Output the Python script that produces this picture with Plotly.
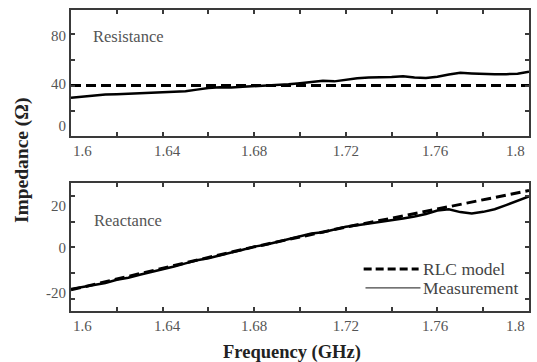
import plotly.graph_objects as go
from plotly.subplots import make_subplots

# ---- data ----
freq = [1.600, 1.605, 1.610, 1.615, 1.620, 1.625, 1.630, 1.635, 1.640, 1.645,
        1.650, 1.655, 1.660, 1.665, 1.670, 1.675, 1.680, 1.685, 1.690, 1.695,
        1.700, 1.705, 1.710, 1.715, 1.720, 1.725, 1.730, 1.735, 1.740, 1.745,
        1.750, 1.755, 1.760, 1.765, 1.770, 1.775, 1.780, 1.785, 1.790, 1.795,
        1.800]
r_meas = [30.5, 31.4, 32.2, 33.0, 33.3, 33.6, 34.0, 34.4, 34.8, 35.0,
          35.6, 36.8, 38.0, 38.6, 38.5, 39.0, 39.4, 39.8, 40.4, 41.0,
          41.8, 42.8, 43.6, 43.2, 44.6, 45.6, 46.2, 46.3, 46.6, 47.2,
          46.2, 45.8, 46.8, 48.6, 49.8, 49.4, 48.9, 48.8, 48.8, 49.2,
          50.6]
x_meas = [-16.2, -15.4, -14.4, -13.8, -12.6, -11.8, -10.6, -9.6, -8.4, -7.4,
          -6.2, -5.0, -4.2, -3.0, -2.0, -0.9, 0.3, 1.0, 2.1, 3.2,
          4.3, 5.4, 5.9, 7.0, 8.0, 8.6, 9.2, 9.9, 10.5, 11.2,
          12.0, 13.0, 14.3, 14.8, 13.7, 13.2, 13.8, 14.8, 16.4, 18.2,
          19.8]
model_freq = [1.60, 1.62, 1.64, 1.66, 1.68, 1.70, 1.72, 1.74, 1.76, 1.78, 1.80]
r_model = [40.0, 40.0, 40.0, 40.0, 40.0, 40.0, 40.0, 40.0, 40.0, 40.0, 40.0]
x_model = [-16.5, -12.2, -8.1, -3.9, 0.2, 4.1, 7.9, 11.3, 14.9, 18.5, 22.1]

x_label_pos = [1.605, 1.642, 1.68, 1.72, 1.759, 1.794]
x_label_txt = ["1.6", "1.64", "1.68", "1.72", "1.76", "1.8"]
x_minor = [1.62, 1.64, 1.66, 1.68, 1.70, 1.72, 1.74, 1.76, 1.78]
r_label_pos = [8.6, 41.3, 78.7]
r_label_txt = ["0", "40", "80"]
r_minor = [20, 40, 60, 80]
xr_label_pos = [-17.7, 0.0, 16.1]
xr_label_txt = ["-20", "0", "20"]
xr_minor = [-20, -10, 0, 10, 20]

FONT = "Liberation Serif"
FRAME = "#3a3a3a"
TICKC = "#555555"

fig = make_subplots(rows=2, cols=1, vertical_spacing=0.1562)
fig.update_layout(
    width=537, height=362,
    margin=dict(l=71, r=6, t=10, b=51),
    paper_bgcolor="white", plot_bgcolor="white",
    showlegend=False,
    font=dict(family=FONT, color="#333333"),
)
fig.update_yaxes(domain=[0.5814, 1.0], row=1, col=1)
fig.update_yaxes(domain=[0.0, 0.4252], row=2, col=1)

fig.add_trace(go.Scatter(x=model_freq, y=r_model, mode="lines", name="RLC model",
                         line=dict(color="black", width=3, dash="10px,5px")), row=1, col=1)
fig.add_trace(go.Scatter(x=freq, y=r_meas, mode="lines", name="Measurement",
                         line=dict(color="black", width=2.5)), row=1, col=1)
fig.add_trace(go.Scatter(x=model_freq, y=x_model, mode="lines", name="RLC model",
                         line=dict(color="black", width=3, dash="10px,5px")), row=2, col=1)
fig.add_trace(go.Scatter(x=freq, y=x_meas, mode="lines", name="Measurement",
                         line=dict(color="black", width=2.5)), row=2, col=1)

xaxis_common = dict(
    range=[1.6, 1.8], showgrid=False, zeroline=False,
    showline=True, linecolor=FRAME, linewidth=2, mirror="ticks",
    tickmode="array", tickvals=x_label_pos, ticktext=x_label_txt, ticks="",
    tickfont=dict(family=FONT, size=15, color=TICKC),
    minor=dict(tickmode="array", tickvals=x_minor, ticks="inside", ticklen=4,
               tickcolor=FRAME, tickwidth=1.5, showgrid=False),
)
fig.update_xaxes(**xaxis_common, row=1, col=1)
fig.update_xaxes(**xaxis_common, row=2, col=1)

yaxis_common = dict(
    showgrid=False, zeroline=False,
    showline=True, linecolor=FRAME, linewidth=2, mirror="ticks",
    tickmode="array", ticks="",
    tickfont=dict(family=FONT, size=15, color=TICKC),
)
fig.update_yaxes(**yaxis_common, range=[0.8, 98.6], tickvals=r_label_pos, ticktext=r_label_txt,
                 minor=dict(tickmode="array", tickvals=r_minor, ticks="inside", ticklen=4,
                            tickcolor=FRAME, tickwidth=1.5, showgrid=False),
                 row=1, col=1)
fig.update_yaxes(**yaxis_common, range=[-24.7, 25.0], tickvals=xr_label_pos, ticktext=xr_label_txt,
                 minor=dict(tickmode="array", tickvals=xr_minor, ticks="inside", ticklen=4,
                            tickcolor=FRAME, tickwidth=1.5, showgrid=False),
                 row=2, col=1)

# panel labels
fig.add_annotation(text="Resistance", xref="x domain", yref="y domain", x=0.043, y=0.786,
                   xanchor="left", yanchor="middle", showarrow=False,
                   font=dict(family=FONT, size=16.5, color="#555555"))
fig.add_annotation(text="Reactance", xref="x2 domain", yref="y2 domain", x=0.045, y=0.711,
                   xanchor="left", yanchor="middle", showarrow=False,
                   font=dict(family=FONT, size=16.5, color="#555555"))

# axis titles
fig.add_annotation(text="<b>Frequency (GHz)</b>", xref="paper", yref="paper", x=0.483, y=-0.1395,
                   xanchor="center", yanchor="middle", showarrow=False,
                   font=dict(family=FONT, size=18.5, color="#222222"))
fig.add_annotation(text="<b>Impedance (Ω)</b>", xref="paper", yref="paper", x=-0.1065, y=0.502,
                   xanchor="center", yanchor="middle", showarrow=False, textangle=-90,
                   font=dict(family=FONT, size=19.5, color="#222222"))

# legend (bottom panel)
fig.add_shape(type="line", xref="x2 domain", yref="y2 domain", x0=0.639, x1=0.759, y0=0.328, y1=0.328,
              line=dict(color="black", width=3, dash="8px,4px"))
fig.add_shape(type="line", xref="x2 domain", yref="y2 domain", x0=0.643, x1=0.763, y0=0.180, y1=0.180,
              line=dict(color="#444444", width=1.2))
fig.add_annotation(text="RLC model", xref="x2 domain", yref="y2 domain", x=0.765, y=0.328,
                   xanchor="left", yanchor="middle", showarrow=False,
                   font=dict(family=FONT, size=17.5, color="#444444"))
fig.add_annotation(text="Measurement", xref="x2 domain", yref="y2 domain", x=0.765, y=0.180,
                   xanchor="left", yanchor="middle", showarrow=False,
                   font=dict(family=FONT, size=17.5, color="#444444"))

fig.write_html("out.html")
